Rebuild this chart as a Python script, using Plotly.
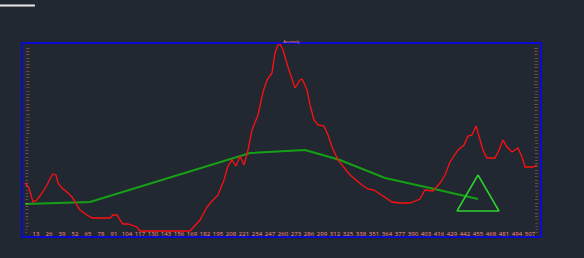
import plotly.graph_objects as go

# Data (arbitrary units)
red_x = [2, 6, 10, 14, 19, 24, 28, 30, 33, 35, 39, 44, 49, 54, 57, 64, 69, 77, 87, 90, 94, 97, 100,
         105, 110, 114, 117, 167, 177, 184, 190, 195, 201, 205, 209, 213, 217, 221, 225, 229, 235,
         240, 244, 249, 252, 255, 257, 260, 265, 269, 272, 277, 279, 282, 284, 287, 291, 295, 301,
         305, 309, 315, 321, 327, 333, 339, 345, 351, 357, 363, 369, 377, 387, 397, 402, 410, 417,
         422, 427, 435, 441, 445, 449, 453, 457, 460, 464, 472, 476, 480, 484, 489, 495, 499, 502,
         510, 514]
red_y = [53, 48, 34, 36, 43, 51, 59, 62, 61, 53, 48, 44, 39, 31, 26, 21, 18, 18, 18, 21, 21, 16, 12,
         12, 10, 9, 5, 5, 16, 29, 36, 41, 56, 70, 76, 70, 80, 71, 86, 106, 121, 144, 156, 163, 183,
         191, 192, 186, 169, 156, 148, 156, 157, 151, 146, 131, 116, 111, 110, 101, 89, 76, 68, 61,
         56, 51, 47, 46, 42, 38, 34, 33, 33, 37, 46, 45, 53, 61, 74, 86, 91, 100, 101, 110, 96, 86,
         78, 78, 86, 96, 89, 84, 88, 79, 69, 69, 71]

green_x = [2, 67, 227, 282, 317, 362, 407, 455]
green_y = [32, 34, 83, 86, 76, 58, 48, 37]

tri_x = [455, 476, 434, 455]
tri_y = [61, 25, 25, 61]

title_text = "Anomaly"

BG = "#222831"
AXIS = "#0a0ad2"
TICK = "#ff8c8c"

fig = go.Figure()
fig.add_trace(go.Scatter(x=green_x, y=green_y, mode="lines",
                         line=dict(color="#16a016", width=2), showlegend=False, hoverinfo="skip"))
fig.add_trace(go.Scatter(x=red_x, y=red_y, mode="lines",
                         line=dict(color="#ff1010", width=1.3), showlegend=False))
fig.add_trace(go.Scatter(x=tri_x, y=tri_y, mode="lines",
                         line=dict(color="#2ed12e", width=1.5), showlegend=False, hoverinfo="skip"))
fig.add_trace(go.Scatter(x=red_x, y=red_y, mode="lines", yaxis="y2",
                         line=dict(width=0), opacity=0, showlegend=False, hoverinfo="skip"))

fig.update_layout(
    width=584, height=258,
    paper_bgcolor=BG, plot_bgcolor=BG,
    margin=dict(l=23, r=44, t=44, b=22),
    showlegend=False,
    title=dict(text=title_text, font=dict(size=4, color=TICK), x=0.499, xanchor="center",
               y=0.84, yanchor="middle"),
    xaxis=dict(range=[0, 517], showgrid=False, zeroline=False, showline=True, linecolor=AXIS,
               linewidth=2, mirror=True, tickmode="linear", tick0=0, dtick=13,
               tickfont=dict(size=6, color=TICK), ticks="", ticklabelstandoff=-9),
    yaxis=dict(range=[0, 192], showgrid=False, zeroline=False, showline=True, linecolor=AXIS,
               linewidth=2, mirror=True, tickmode="linear", tick0=0, dtick=3.3, tickformat=".0f",
               tickfont=dict(size=2, color=TICK), ticks="", ticklabelposition="inside"),
    yaxis2=dict(range=[0, 192], overlaying="y", side="right", showgrid=False, zeroline=False,
                showline=True, linecolor=AXIS, linewidth=2, tickmode="linear", tick0=0, dtick=3.3,
                tickformat=".0f", tickfont=dict(size=2, color=TICK), ticks="",
                ticklabelposition="inside"),
    shapes=[dict(type="line", xref="paper", yref="paper", x0=-0.045, x1=0.023,
                 y0=1.2, y1=1.2, line=dict(color="#e8e8e8", width=2))],
)

fig.write_html("out.html")
